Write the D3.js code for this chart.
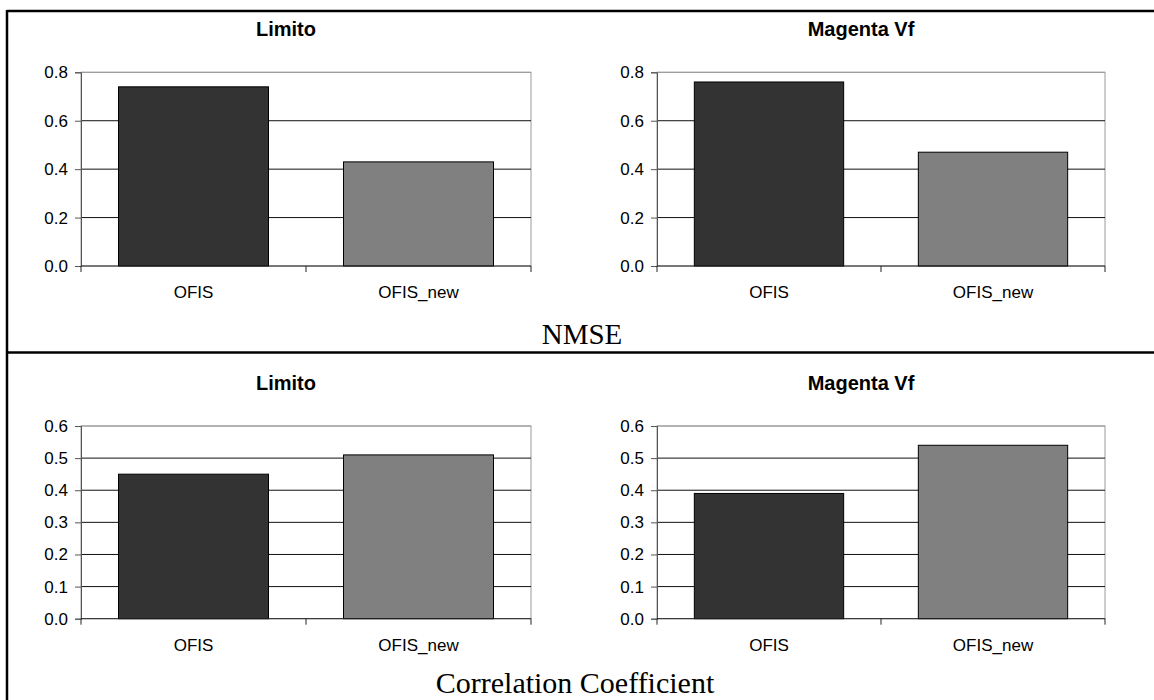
<!DOCTYPE html>
<html>
<head>
<meta charset="utf-8">
<script src="https://cdn.jsdelivr.net/npm/d3@7"></script>
<style>
  body { margin: 0; background: #fff; }
  .tick text { font-family: Arial, "Liberation Sans", sans-serif; }
</style>
</head>
<body>
<svg id="chart" width="1154" height="700"></svg>
<script>
// data
var methods = ["OFIS", "OFIS_new"];
var datasets = ["Limito", "Magenta Vf"];
var nmseLimito = [0.74, 0.43];
var nmseMagenta = [0.76, 0.47];
var corrLimito = [0.45, 0.51];
var corrMagenta = [0.39, 0.54];
var nmseTicks = [0.0, 0.2, 0.4, 0.6, 0.8];
var corrTicks = [0.0, 0.1, 0.2, 0.3, 0.4, 0.5, 0.6];
var barColors = ["#333333", "#808080"];

var svg = d3.select("#chart");

// frame lines
svg.append("line").attr("x1", 7).attr("x2", 1154).attr("y1", 11).attr("y2", 11)
    .attr("stroke", "#000").attr("stroke-width", 2.5);
svg.append("line").attr("x1", 7).attr("x2", 1154).attr("y1", 352.5).attr("y2", 352.5)
    .attr("stroke", "#000").attr("stroke-width", 2.5);
svg.append("line").attr("x1", 7).attr("x2", 7).attr("y1", 10).attr("y2", 700)
    .attr("stroke", "#000").attr("stroke-width", 2.5);

var panels = [
    {title: datasets[0], values: nmseLimito, ticks: nmseTicks, x0: 81, x1: 531, yTop: 72.3, yZero: 266},
    {title: datasets[1], values: nmseMagenta, ticks: nmseTicks, x0: 657, x1: 1105, yTop: 72.3, yZero: 266},
    {title: datasets[0], values: corrLimito, ticks: corrTicks, x0: 81, x1: 531, yTop: 426, yZero: 618.7},
    {title: datasets[1], values: corrMagenta, ticks: corrTicks, x0: 657, x1: 1105, yTop: 426, yZero: 618.7}
];

panels.forEach(function(p) {
    var y = d3.scaleLinear()
        .domain([0, p.ticks[p.ticks.length - 1]])
        .range([p.yZero, p.yTop]);
    var x = d3.scaleBand()
        .domain(methods)
        .range([p.x0, p.x1])
        .paddingInner(1 / 3)
        .paddingOuter(1 / 6);
    var xCat = d3.scaleBand().domain(methods).range([p.x0, p.x1]);

    var g = svg.append("g");

    // plot area border
    g.append("rect")
        .attr("x", p.x0).attr("y", p.yTop)
        .attr("width", p.x1 - p.x0).attr("height", p.yZero - p.yTop)
        .attr("fill", "none").attr("stroke", "#9a9a9a").attr("stroke-width", 1);

    // gridlines
    g.selectAll(".grid").data(p.ticks.slice(1))
        .enter().append("line")
        .attr("x1", p.x0).attr("x2", p.x1)
        .attr("y1", function(d) { return y(d); })
        .attr("y2", function(d) { return y(d); })
        .attr("stroke", function(d, i) { return i == p.ticks.length - 2 ? "#9a9a9a" : "#111"; })
        .attr("stroke-width", 1);

    // bars
    g.selectAll(".bar").data(p.values)
        .enter().append("rect")
        .attr("x", function(d, i) { return x(methods[i]); })
        .attr("y", function(d) { return y(d); })
        .attr("width", x.bandwidth())
        .attr("height", function(d) { return p.yZero - y(d); })
        .attr("fill", function(d, i) { return barColors[i]; })
        .attr("stroke", "#000").attr("stroke-width", 1);

    // y axis
    var yAxis = g.append("g")
        .attr("transform", "translate(" + p.x0 + ",0)")
        .call(d3.axisLeft(y).tickValues(p.ticks).tickFormat(d3.format(".1f")).tickSize(6).tickPadding(7));
    yAxis.select(".domain").attr("stroke", "#555");
    yAxis.selectAll(".tick line").attr("stroke", "#555");
    yAxis.selectAll("text").attr("font-size", "17px").attr("fill", "#000");

    // x axis
    var xAxis = g.append("g")
        .attr("transform", "translate(0," + p.yZero + ")")
        .call(d3.axisBottom(x).tickSize(0).tickPadding(20));
    xAxis.select(".domain").remove();
    xAxis.selectAll("text").attr("font-size", "17px").attr("fill", "#000");
    g.append("line").attr("x1", p.x0).attr("x2", p.x1)
        .attr("y1", p.yZero).attr("y2", p.yZero).attr("stroke", "#222");
    g.selectAll(".ctick").data([p.x0, xCat(methods[1]), p.x1])
        .enter().append("line")
        .attr("x1", function(d) { return d; }).attr("x2", function(d) { return d; })
        .attr("y1", p.yZero).attr("y2", p.yZero + 6)
        .attr("stroke", "#222");

    // title
    g.append("text")
        .attr("x", (p.x0 + p.x1) / 2 - 20)
        .attr("y", p.yTop - 36.5)
        .attr("text-anchor", "middle")
        .attr("font-family", "Arial, 'Liberation Sans', sans-serif")
        .attr("font-weight", "bold")
        .attr("font-size", "20px")
        .text(p.title);
});

svg.append("text")
    .attr("x", 582).attr("y", 344)
    .attr("text-anchor", "middle")
    .attr("font-family", "'Times New Roman', 'Liberation Serif', serif")
    .attr("font-size", "29px")
    .text("NMSE");

svg.append("text")
    .attr("x", 575).attr("y", 693)
    .attr("text-anchor", "middle")
    .attr("font-family", "'Times New Roman', 'Liberation Serif', serif")
    .attr("font-size", "30px")
    .text("Correlation Coefficient");
</script>
</body>
</html>
